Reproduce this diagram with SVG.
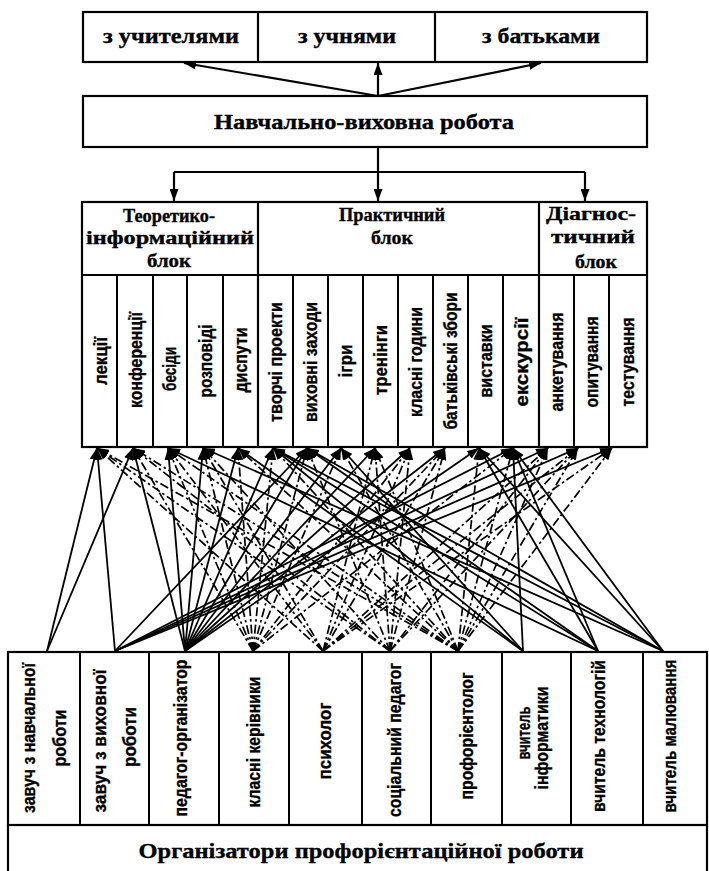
<svg xmlns="http://www.w3.org/2000/svg" width="709" height="871" viewBox="0 0 709 871">
<style>
.box{fill:#fff;stroke:#000;stroke-width:2.2}
.ln{stroke:#000;stroke-width:2.2;fill:none}
.hd{font-family:"Liberation Serif","Times New Roman",serif;font-weight:bold;fill:#000;stroke:#000;stroke-width:0.35;text-anchor:middle}
.vt{font-family:"Liberation Sans Narrow","Liberation Sans",Arial,sans-serif;font-weight:bold;font-size:18px;fill:#000;stroke:#000;stroke-width:0.35;text-anchor:middle}
.s{stroke:#000;stroke-width:1.8;fill:none;marker-end:url(#ah)}
.d{stroke:#000;stroke-width:1.7;fill:none;stroke-dasharray:9 3 2.5 3;marker-end:url(#ah)}
.t{stroke:#000;stroke-width:2.2;fill:none;marker-end:url(#big)}
</style>
<defs>
<marker id="ah" markerUnits="userSpaceOnUse" markerWidth="12" markerHeight="9" refX="12" refY="4.5" orient="auto"><path d="M0,0 L12,4.5 L0,9 z" fill="#000"/></marker>
<marker id="big" markerUnits="userSpaceOnUse" markerWidth="12" markerHeight="9" refX="12" refY="4.5" orient="auto"><path d="M0,0 L12,4.5 L0,9 z" fill="#000"/></marker>
</defs>
<rect width="709" height="871" fill="#fff"/>

<g id="top-row">
<rect class="box" x="83" y="12" width="564" height="50"/>
<line class="ln" x1="258" y1="12" x2="258" y2="62"/>
<line class="ln" x1="435" y1="12" x2="435" y2="62"/>
<text class="hd" x="171" y="43" font-size="21" textLength="136" lengthAdjust="spacingAndGlyphs">з учителями</text>
<text class="hd" x="347" y="43" font-size="21" textLength="98" lengthAdjust="spacingAndGlyphs">з учнями</text>
<text class="hd" x="541" y="43" font-size="21" textLength="118" lengthAdjust="spacingAndGlyphs">з батьками</text>
</g>

<g id="navch">
<rect class="box" x="83" y="96" width="564" height="51"/>
<text class="hd" x="364" y="129" font-size="21" textLength="300" lengthAdjust="spacingAndGlyphs">Навчально-виховна робота</text>
</g>

<g id="blocks">
<rect class="box" x="82" y="202" width="565" height="245"/>
<line class="ln" x1="82" y1="275" x2="647" y2="275"/>
<line class="ln" x1="258" y1="202" x2="258" y2="447"/>
<line class="ln" x1="539" y1="202" x2="539" y2="447"/>
<text class="hd" x="169" y="222" font-size="19" textLength="92" lengthAdjust="spacingAndGlyphs">Теоретико-</text>
<text class="hd" x="170" y="244" font-size="19" textLength="168" lengthAdjust="spacingAndGlyphs">інформаційний</text>
<text class="hd" x="169" y="267" font-size="19" textLength="44" lengthAdjust="spacingAndGlyphs">блок</text>
<text class="hd" x="392" y="221" font-size="19" textLength="106" lengthAdjust="spacingAndGlyphs">Практичний</text>
<text class="hd" x="392" y="244" font-size="19" textLength="42" lengthAdjust="spacingAndGlyphs">блок</text>
<text class="hd" x="591" y="220" font-size="19" textLength="90" lengthAdjust="spacingAndGlyphs">Діагнос-</text>
<text class="hd" x="593" y="243" font-size="19" textLength="84" lengthAdjust="spacingAndGlyphs">тичний</text>
<text class="hd" x="596" y="268" font-size="19" textLength="42" lengthAdjust="spacingAndGlyphs">блок</text>
</g>

<g id="items">
<g stroke="#000" stroke-width="2">
<line x1="117" y1="275" x2="117" y2="447"/><line x1="153" y1="275" x2="153" y2="447"/>
<line x1="187" y1="275" x2="187" y2="447"/><line x1="223" y1="275" x2="223" y2="447"/>
<line x1="293" y1="275" x2="293" y2="447"/><line x1="328" y1="275" x2="328" y2="447"/>
<line x1="363" y1="275" x2="363" y2="447"/><line x1="398" y1="275" x2="398" y2="447"/>
<line x1="433" y1="275" x2="433" y2="447"/><line x1="468" y1="275" x2="468" y2="447"/>
<line x1="503" y1="275" x2="503" y2="447"/><line x1="574" y1="275" x2="574" y2="447"/>
<line x1="609" y1="275" x2="609" y2="447"/>
</g>
<text class="vt" transform="translate(107,361) rotate(-90)" textLength="48" lengthAdjust="spacingAndGlyphs">лекції</text>
<text class="vt" transform="translate(142,360) rotate(-90)" textLength="96" lengthAdjust="spacingAndGlyphs">конференції</text>
<text class="vt" transform="translate(176,369) rotate(-90)" textLength="44" lengthAdjust="spacingAndGlyphs">бесіди</text>
<text class="vt" transform="translate(212,361) rotate(-90)" textLength="73" lengthAdjust="spacingAndGlyphs">розповіді</text>
<text class="vt" transform="translate(247,360) rotate(-90)" textLength="65" lengthAdjust="spacingAndGlyphs">диспути</text>
<text class="vt" transform="translate(282,362) rotate(-90)" textLength="120" lengthAdjust="spacingAndGlyphs">творчі проекти</text>
<text class="vt" transform="translate(317,362) rotate(-90)" textLength="120" lengthAdjust="spacingAndGlyphs">виховні заходи</text>
<text class="vt" transform="translate(352,361) rotate(-90)" textLength="33" lengthAdjust="spacingAndGlyphs">ігри</text>
<text class="vt" transform="translate(387,360) rotate(-90)" textLength="70" lengthAdjust="spacingAndGlyphs">тренінги</text>
<text class="vt" transform="translate(422,362) rotate(-90)" textLength="110" lengthAdjust="spacingAndGlyphs">класні години</text>
<text class="vt" transform="translate(457,361) rotate(-90)" textLength="137" lengthAdjust="spacingAndGlyphs">батьківські збори</text>
<text class="vt" transform="translate(492,361) rotate(-90)" textLength="73" lengthAdjust="spacingAndGlyphs">виставки</text>
<text class="vt" transform="translate(528,362) rotate(-90)" textLength="89" lengthAdjust="spacingAndGlyphs">екскурсії</text>
<text class="vt" transform="translate(563,362) rotate(-90)" textLength="99" lengthAdjust="spacingAndGlyphs">анкетування</text>
<text class="vt" transform="translate(598,362) rotate(-90)" textLength="91" lengthAdjust="spacingAndGlyphs">опитування</text>
<text class="vt" transform="translate(634,362) rotate(-90)" textLength="89" lengthAdjust="spacingAndGlyphs">тестування</text>
</g>

<g id="organizers">
<rect class="box" x="8" y="652" width="699" height="173"/>
<g stroke="#000" stroke-width="2">
<line x1="80" y1="652" x2="80" y2="825"/><line x1="149" y1="652" x2="149" y2="825"/>
<line x1="219" y1="652" x2="219" y2="825"/><line x1="289" y1="652" x2="289" y2="825"/>
<line x1="362" y1="652" x2="362" y2="825"/><line x1="431" y1="652" x2="431" y2="825"/>
<line x1="502" y1="652" x2="502" y2="825"/><line x1="571" y1="652" x2="571" y2="825"/>
<line x1="643" y1="652" x2="643" y2="825"/>
</g>
<text class="vt" transform="translate(35,738) rotate(-90)" textLength="150" lengthAdjust="spacingAndGlyphs">завуч з навчальної</text>
<text class="vt" transform="translate(66,738) rotate(-90)" textLength="57" lengthAdjust="spacingAndGlyphs">роботи</text>
<text class="vt" transform="translate(106,741) rotate(-90)" textLength="143" lengthAdjust="spacingAndGlyphs">завуч з виховної</text>
<text class="vt" transform="translate(136,737) rotate(-90)" textLength="60" lengthAdjust="spacingAndGlyphs">роботи</text>
<text class="vt" transform="translate(187,738) rotate(-90)" textLength="157" lengthAdjust="spacingAndGlyphs">педагог-організатор</text>
<text class="vt" transform="translate(260,742) rotate(-90)" textLength="131" lengthAdjust="spacingAndGlyphs">класні керівники</text>
<text class="vt" transform="translate(331,741) rotate(-90)" textLength="77" lengthAdjust="spacingAndGlyphs">психолог</text>
<text class="vt" transform="translate(401,740) rotate(-90)" textLength="154" lengthAdjust="spacingAndGlyphs">соціальний педагог</text>
<text class="vt" transform="translate(473,736) rotate(-90)" textLength="127" lengthAdjust="spacingAndGlyphs">профорієнтолог</text>
<text class="vt" transform="translate(530,733) rotate(-90)" textLength="53" lengthAdjust="spacingAndGlyphs">вчитель</text>
<text class="vt" transform="translate(548,738) rotate(-90)" textLength="103" lengthAdjust="spacingAndGlyphs">інформатики</text>
<text class="vt" transform="translate(605,736) rotate(-90)" textLength="152" lengthAdjust="spacingAndGlyphs">вчитель технологій</text>
<text class="vt" transform="translate(676,736) rotate(-90)" textLength="153" lengthAdjust="spacingAndGlyphs">вчитель малювання</text>
</g>

<g id="org-title">
<line class="ln" x1="8" y1="825" x2="8" y2="871"/>
<line class="ln" x1="707" y1="825" x2="707" y2="871"/>
<text class="hd" x="361" y="858" font-size="22" textLength="445" lengthAdjust="spacingAndGlyphs">Організатори профорієнтаційної роботи</text>
</g>

<g id="connectors">
<line class="t" x1="378" y1="96" x2="184" y2="63"/>
<line class="t" x1="378" y1="96" x2="378" y2="63"/>
<line class="t" x1="378" y1="96" x2="541" y2="63"/>
<path class="ln" d="M378,147 V172 M174,172 H585"/>
<line class="t" x1="174" y1="172" x2="174" y2="201"/>
<line class="t" x1="378" y1="172" x2="378" y2="201"/>
<line class="t" x1="585" y1="172" x2="585" y2="201"/>

<line class="s" x1="47" y1="651" x2="97" y2="448"/>
<line class="s" x1="47" y1="651" x2="133" y2="448"/>
<line class="s" x1="115" y1="651" x2="97" y2="448"/>
<line class="s" x1="115" y1="651" x2="307" y2="448"/>
<line class="s" x1="115" y1="651" x2="513" y2="448"/>
<line class="s" x1="115" y1="651" x2="548" y2="448"/>
<line class="s" x1="115" y1="651" x2="578" y2="448"/>
<line class="s" x1="115" y1="651" x2="612" y2="448"/>
<line class="s" x1="185" y1="651" x2="133" y2="448"/>
<line class="s" x1="185" y1="651" x2="168" y2="448"/>
<line class="s" x1="185" y1="651" x2="203" y2="448"/>
<line class="s" x1="185" y1="651" x2="238" y2="448"/>
<line class="s" x1="185" y1="651" x2="273" y2="448"/>
<line class="s" x1="185" y1="651" x2="307" y2="448"/>
<line class="s" x1="185" y1="651" x2="341" y2="448"/>
<line class="s" x1="185" y1="651" x2="375" y2="448"/>
<line class="s" x1="185" y1="651" x2="410" y2="448"/>
<line class="s" x1="185" y1="651" x2="445" y2="448"/>
<line class="s" x1="185" y1="651" x2="479" y2="448"/>
<line class="s" x1="523" y1="651" x2="513" y2="448"/>
<line class="s" x1="523" y1="651" x2="238" y2="448"/>
<line class="s" x1="523" y1="651" x2="273" y2="448"/>
<line class="s" x1="523" y1="651" x2="341" y2="448"/>
<line class="s" x1="598" y1="651" x2="513" y2="448"/>
<line class="s" x1="598" y1="651" x2="479" y2="448"/>
<line class="s" x1="598" y1="651" x2="273" y2="448"/>
<line class="s" x1="598" y1="651" x2="307" y2="448"/>
<line class="s" x1="598" y1="651" x2="168" y2="448"/>
<line class="s" x1="663" y1="651" x2="513" y2="448"/>
<line class="s" x1="663" y1="651" x2="479" y2="448"/>
<line class="s" x1="663" y1="651" x2="273" y2="448"/>
<line class="s" x1="663" y1="651" x2="307" y2="448"/>
<line class="s" x1="663" y1="651" x2="203" y2="448"/>

<line class="d" x1="253" y1="651" x2="133" y2="448"/>
<line class="d" x1="253" y1="651" x2="168" y2="448"/>
<line class="d" x1="253" y1="651" x2="203" y2="448"/>
<line class="d" x1="253" y1="651" x2="238" y2="448"/>
<line class="d" x1="253" y1="651" x2="273" y2="448"/>
<line class="d" x1="253" y1="651" x2="307" y2="448"/>
<line class="d" x1="253" y1="651" x2="341" y2="448"/>
<line class="d" x1="253" y1="651" x2="410" y2="448"/>
<line class="d" x1="253" y1="651" x2="445" y2="448"/>
<line class="d" x1="253" y1="651" x2="513" y2="448"/>
<line class="d" x1="323" y1="651" x2="97" y2="448"/>
<line class="d" x1="323" y1="651" x2="168" y2="448"/>
<line class="d" x1="323" y1="651" x2="203" y2="448"/>
<line class="d" x1="323" y1="651" x2="375" y2="448"/>
<line class="d" x1="323" y1="651" x2="410" y2="448"/>
<line class="d" x1="323" y1="651" x2="445" y2="448"/>
<line class="d" x1="323" y1="651" x2="548" y2="448"/>
<line class="d" x1="323" y1="651" x2="578" y2="448"/>
<line class="d" x1="323" y1="651" x2="612" y2="448"/>
<line class="d" x1="390" y1="651" x2="97" y2="448"/>
<line class="d" x1="390" y1="651" x2="133" y2="448"/>
<line class="d" x1="390" y1="651" x2="203" y2="448"/>
<line class="d" x1="390" y1="651" x2="307" y2="448"/>
<line class="d" x1="390" y1="651" x2="375" y2="448"/>
<line class="d" x1="390" y1="651" x2="410" y2="448"/>
<line class="d" x1="390" y1="651" x2="445" y2="448"/>
<line class="d" x1="390" y1="651" x2="548" y2="448"/>
<line class="d" x1="390" y1="651" x2="578" y2="448"/>
<line class="d" x1="458" y1="651" x2="97" y2="448"/>
<line class="d" x1="458" y1="651" x2="133" y2="448"/>
<line class="d" x1="458" y1="651" x2="168" y2="448"/>
<line class="d" x1="458" y1="651" x2="238" y2="448"/>
<line class="d" x1="458" y1="651" x2="273" y2="448"/>
<line class="d" x1="458" y1="651" x2="341" y2="448"/>
<line class="d" x1="458" y1="651" x2="375" y2="448"/>
<line class="d" x1="458" y1="651" x2="479" y2="448"/>
<line class="d" x1="458" y1="651" x2="513" y2="448"/>
<line class="d" x1="458" y1="651" x2="548" y2="448"/>
<line class="d" x1="458" y1="651" x2="578" y2="448"/>
<line class="d" x1="458" y1="651" x2="612" y2="448"/>
</g>
</svg>
